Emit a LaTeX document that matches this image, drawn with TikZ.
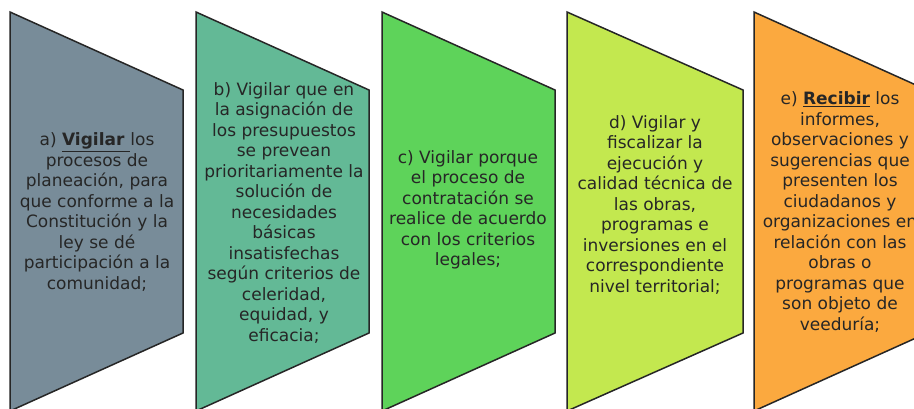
\documentclass[tikz,border=0pt]{standalone}
\usepackage{fontspec}
\setmainfont{DejaVu Sans}
\usepackage{xcolor}
\usetikzlibrary{positioning}

\definecolor{grisAzul}{HTML}{788C99}
\definecolor{verdeAgua}{HTML}{63B996}
\definecolor{verdeVivo}{HTML}{5ED35A}
\definecolor{verdeLima}{HTML}{C3E84F}
\definecolor{naranja}{HTML}{FBA93F}
\definecolor{texto}{HTML}{262626}

\tikzset{
  bloque/.style={draw=black!85, line width=1.5pt, line join=miter},
  texto/.style={align=center, text=texto, inner sep=0pt,
    font=\fontsize{17}{20.5}\selectfont}
}

\begin{document}
\begin{tikzpicture}[x=1pt, y=-1pt]
    \useasboundingbox (0,0) rectangle (914,408);
    \clip (0,0) rectangle (914,408);
    \fill[white] (0,0) rectangle (914,408);

    % a)
    \draw[bloque, fill=grisAzul] (10,12) -- (183,90) -- (183,333) -- (10,411) -- cycle;
    \node[texto] (a) at (97,212) {a) \underline{\textbf{Vigilar }}los\\procesos de\\planeación, para\\que conforme a la\\Constitución y la\\ley se dé\\participación a la\\comunidad;};

    % b)
    \draw[bloque, fill=verdeAgua] (196,12) -- (369,90) -- (369,333) -- (196,411) -- cycle;
    \node[texto] (b) at (284,213) {b) Vigilar que en\\la asignación de\\los presupuestos\\se prevean\\prioritariamente la\\solución de\\necesidades\\básicas\\insatisfechas\\según criterios de\\celeridad,\\equidad, y\\eficacia;};

    % c)
    \draw[bloque, fill=verdeVivo] (382,12) -- (555,90) -- (555,333) -- (382,411) -- cycle;
    \node[texto] (c) at (468,210) {c) Vigilar porque\\el proceso de\\contratación se\\realice de acuerdo\\con los criterios\\legales;};

    % d)
    \draw[bloque, fill=verdeLima] (567,12) -- (743,90) -- (743,333) -- (567,411) -- cycle;
    \node[texto] (d) at (655,205) {d) Vigilar y\\fiscalizar la\\ejecución y\\calidad técnica de\\las obras,\\programas e\\inversiones en el\\correspondiente\\nivel territorial;};

    % e)
    \draw[bloque, fill=naranja] (754,12) -- (927,90) -- (927,333) -- (754,411) -- cycle;
    \node[texto] (e) at (840,212) {e) \underline{\textbf{Recibir}} los\\informes,\\observaciones y\\sugerencias que\\presenten los\\ciudadanos y\\organizaciones en\\relación con las\\obras o\\programas que\\son objeto de\\veeduría;};
  \end{tikzpicture}
\end{document}
